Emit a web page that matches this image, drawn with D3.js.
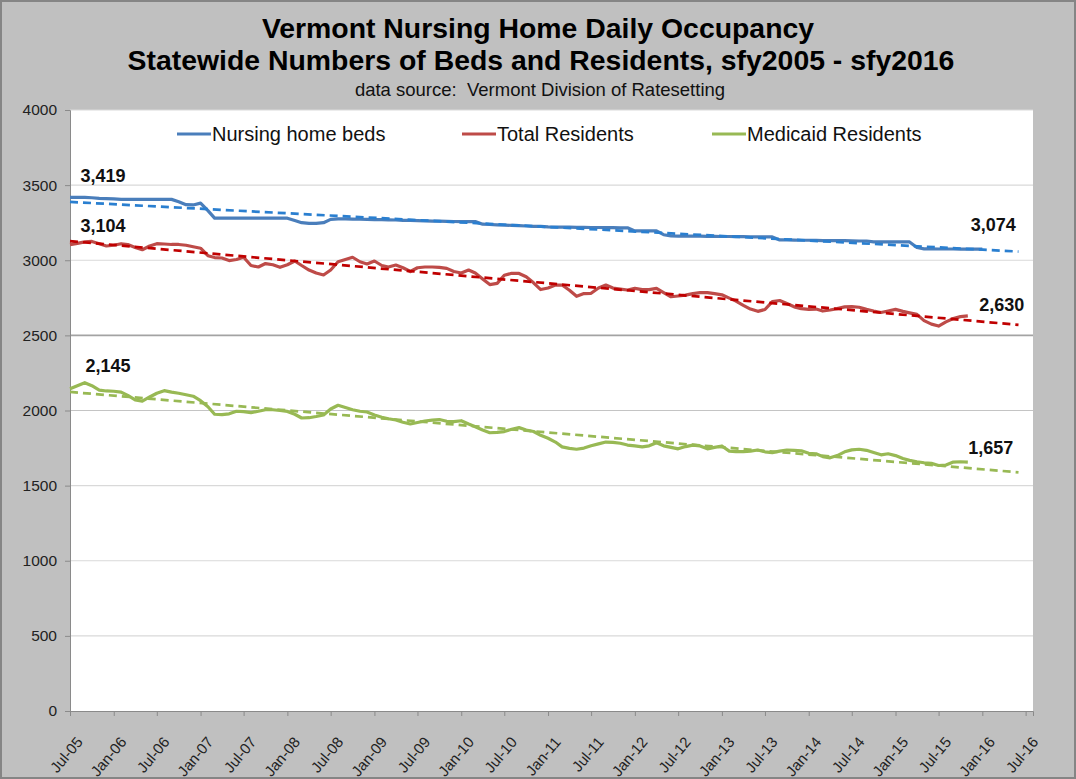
<!DOCTYPE html>
<html>
<head>
<meta charset="utf-8">
<script src="https://cdn.jsdelivr.net/npm/d3@7"></script>
<style>
  body { margin: 0; background: #fff; }
  svg { display: block; font-family: "Liberation Sans", Arial, sans-serif; }
</style>
</head>
<body>
<svg id="chart" width="1076" height="779"></svg>
<script>
// monthly statewide values, first month Jul-05
var firstMonth = "2005-07-01";
var trendLastMonth = "2016-06-01";
var seriesNames = ["Nursing home beds", "Total Residents", "Medicaid Residents"];

var bedsValues = [
  3419, 3419, 3419, 3416, 3412, 3410, 3408, 3405, 3405, 3405, 3405, 3405, 3405, 3405, 3405,
  3390, 3370, 3368, 3380, 3330, 3280,
  3280, 3280, 3280, 3280, 3280, 3280, 3280, 3280, 3280, 3280,
  3265, 3250, 3245, 3245, 3250, 3272, 3275,
  3275, 3274, 3273, 3272, 3271, 3270, 3269, 3268, 3266, 3265, 3264, 3262, 3261, 3260, 3259, 3258,
  3257, 3257, 3257, 3240,
  3238, 3236, 3234, 3232, 3230, 3228, 3226, 3225,
  3222, 3221, 3220, 3220, 3219, 3219, 3218, 3218, 3217, 3217, 3216, 3216,
  3195, 3195, 3195, 3195, 3170,
  3162, 3161, 3161, 3160, 3160, 3159, 3159, 3158, 3158, 3157, 3157, 3156, 3156, 3155, 3155,
  3135,
  3135, 3134, 3133, 3133, 3132, 3131, 3131, 3130, 3130, 3129, 3128, 3128,
  3122, 3122, 3122, 3122, 3122, 3122, 3085,
  3076, 3076, 3075, 3075, 3075, 3074, 3074, 3074, 3074
];

var totalValues = [
  3104, 3112, 3122, 3125, 3110, 3095, 3100, 3110, 3105, 3085, 3070, 3095, 3110, 3108, 3105, 3105,
  3100, 3090, 3080, 3030, 3018, 3015, 2998, 3005, 3020, 2965, 2955, 2978, 2970, 2953, 2970, 2995,
  2965, 2935, 2915, 2902, 2935, 2990, 3005, 3020, 2990, 2975, 2995, 2965, 2955, 2968, 2950, 2925,
  2950, 2955, 2955, 2952, 2946, 2925, 2915, 2935, 2915, 2875, 2838, 2846, 2900, 2913, 2912, 2890,
  2850, 2805, 2815, 2835, 2835, 2800, 2760, 2778, 2780, 2815, 2835, 2815, 2808, 2802, 2813, 2805,
  2805, 2813, 2785, 2757, 2762, 2768, 2778, 2784, 2784, 2778, 2770, 2748, 2728, 2700, 2675, 2660,
  2672, 2725, 2732, 2712, 2690, 2678, 2673, 2675, 2662, 2669, 2678, 2690, 2691, 2687, 2673, 2662,
  2652, 2662, 2673, 2660, 2650, 2640, 2598, 2575, 2562, 2590, 2612, 2625, 2630
];

var medicaidValues = [
  2145, 2165, 2185, 2165, 2135, 2130, 2128, 2122, 2100, 2070, 2062, 2090, 2115, 2132, 2122, 2115,
  2105, 2095, 2065, 2025, 1975, 1972, 1978, 1995, 1992, 1986, 1995, 2005, 2005, 2000, 1994, 1975,
  1950, 1952, 1960, 1970, 2010, 2035, 2020, 2005, 1995, 1990, 1970, 1955, 1945, 1937, 1922, 1910,
  1920, 1930, 1936, 1940, 1928, 1926, 1932, 1910, 1892, 1870, 1852, 1855, 1860, 1875, 1886, 1870,
  1860, 1835, 1815, 1790, 1758, 1748, 1742, 1750, 1765, 1778, 1790, 1788, 1782, 1770, 1764, 1758,
  1765, 1785, 1765, 1755, 1745, 1760, 1770, 1764, 1745, 1755, 1764, 1730, 1726, 1726, 1730, 1737,
  1725, 1720, 1730, 1737, 1734, 1732, 1715, 1712, 1693, 1685, 1700, 1725, 1738, 1742, 1735, 1720,
  1705, 1712, 1700, 1680, 1668, 1659, 1652, 1648, 1634, 1637, 1657, 1659, 1657
];

var yTickValues = [0, 500, 1000, 1500, 2000, 2500, 3000, 3500, 4000];

var lineColors = ["#4a7ebb", "#be4b48", "#98b954"];
var trendColors = ["#2a7fd0", "#c00000", "#98b954"];

var svg = d3.select("#chart");
var W = 1076, H = 779;
var plotL = 70, plotR = 1033, plotT = 110, plotB = 711;

svg.append("rect").attr("x", 1).attr("y", 1).attr("width", W - 2).attr("height", H - 2)
  .attr("fill", "#c0c0c0").attr("stroke", "#858585").attr("stroke-width", 2);
svg.append("rect").attr("x", plotL).attr("y", plotT).attr("width", plotR - plotL).attr("height", plotB - plotT)
  .attr("fill", "#fff");

var start = new Date(firstMonth + "T00:00:00Z");
var x = d3.scaleUtc().domain([start, new Date("2016-08-01T00:00:00Z")]).range([plotL, plotR]);
var y = d3.scaleLinear().domain([0, 4000]).range([plotB, plotT]);

// grid
svg.append("g").selectAll("line").data(yTickValues.filter(function(d){ return d > 0; })).enter()
  .append("line")
  .attr("x1", plotL).attr("x2", plotR)
  .attr("y1", function(d){ return y(d); }).attr("y2", function(d){ return y(d); })
  .attr("stroke", function(d){ return d == 2500 ? "#a3a3a3" : (d == 2000 ? "#c4c4c4" : "#d9d9d9"); })
  .attr("stroke-width", function(d){ return d == 2500 ? 1.6 : 1.2; });

// axes
var yAxis = svg.append("g").attr("transform", "translate(" + plotL + ",0)")
  .call(d3.axisLeft(y).tickValues(yTickValues).tickSize(5).tickPadding(8).tickFormat(d3.format("d")));
yAxis.select(".domain").attr("stroke", "#8a8a8a");
yAxis.selectAll(".tick line").attr("stroke", "#8a8a8a");
yAxis.selectAll("text").attr("font-size", 15.5).attr("fill", "#222").style("font-family", "inherit");

var xAxis = svg.append("g").attr("transform", "translate(0," + plotB + ")")
  .call(d3.axisBottom(x).ticks(d3.utcMonth.every(6)).tickSize(5).tickFormat(d3.utcFormat("%b-%y")));
xAxis.select(".domain").attr("stroke", "#8a8a8a");
xAxis.selectAll(".tick line").attr("stroke", "#8a8a8a");
xAxis.selectAll("text")
  .attr("font-size", 15).attr("fill", "#222").style("font-family", "inherit")
  .attr("text-anchor", "end").attr("y", 0).attr("dy", "0.35em")
  .attr("transform", "translate(9,28) rotate(-50)");

// series
function toPoints(vals) {
  return vals.map(function(v, i){ return { date: d3.utcMonth.offset(start, i), value: v }; });
}
var allSeries = [bedsValues, totalValues, medicaidValues].map(toPoints);
var line = d3.line().x(function(d){ return x(d.date); }).y(function(d){ return y(d.value); });

allSeries.forEach(function(pts, s){
  svg.append("path").datum(pts)
    .attr("d", line).attr("fill", "none")
    .attr("stroke", lineColors[s]).attr("stroke-width", 3.2)
    .attr("stroke-linejoin", "round");
});

// linear trend lines, forecast to Jun-16
var trendEnd = new Date(trendLastMonth + "T00:00:00Z");
var trendN = d3.utcMonth.count(start, trendEnd);
allSeries.forEach(function(pts, s){
  var mx = d3.mean(pts, function(d, i){ return i; });
  var my = d3.mean(pts, function(d){ return d.value; });
  var sxy = d3.sum(pts, function(d, i){ return (i - mx) * (d.value - my); });
  var sxx = d3.sum(pts, function(d, i){ return (i - mx) * (i - mx); });
  var slope = sxy / sxx, icpt = my - slope * mx;
  var tr = [{ date: start, value: icpt }, { date: trendEnd, value: icpt + slope * trendN }];
  svg.append("path").datum(tr)
    .attr("d", line).attr("fill", "none")
    .attr("stroke", trendColors[s]).attr("stroke-width", 2.7)
    .attr("stroke-dasharray", "8,5");
});

// first / last value labels
var labelSpots = [
  { s: 0, at: "first", dx: 33, dy: -15 },
  { s: 1, at: "first", dx: 33, dy: -13 },
  { s: 2, at: "first", dx: 38, dy: -17 },
  { s: 0, at: "last", dx: 11, dy: -18 },
  { s: 1, at: "last", dx: 34, dy: -5 },
  { s: 2, at: "last", dx: 23, dy: -8 }
];
svg.append("g").selectAll("text").data(labelSpots).enter().append("text")
  .attr("x", function(d){ var p = allSeries[d.s]; p = d.at == "first" ? p[0] : p[p.length - 1]; return x(p.date) + d.dx; })
  .attr("y", function(d){ var p = allSeries[d.s]; p = d.at == "first" ? p[0] : p[p.length - 1]; return y(p.value) + d.dy; })
  .attr("text-anchor", "middle").attr("font-size", 18).attr("font-weight", "bold").attr("fill", "#111")
  .text(function(d){ var p = allSeries[d.s]; p = d.at == "first" ? p[0] : p[p.length - 1]; return d3.format(",")(p.value); });

// legend
var legendX = [177, 462, 712];
var lg = svg.append("g").selectAll("g").data(seriesNames).enter().append("g")
  .attr("transform", function(d, i){ return "translate(" + legendX[i] + ",134)"; });
lg.append("line").attr("x1", 0).attr("x2", 34).attr("stroke", function(d, i){ return lineColors[i]; })
  .attr("stroke-width", 3.2);
lg.append("text").attr("x", 35).attr("y", 7).attr("font-size", 20).attr("fill", "#111").text(function(d){ return d; });

// titles
svg.append("text").attr("x", 538).attr("y", 38).attr("text-anchor", "middle")
  .attr("font-size", 28.4).attr("font-weight", "bold").attr("fill", "#000")
  .text("Vermont Nursing Home Daily Occupancy");
svg.append("text").attr("x", 541).attr("y", 70).attr("text-anchor", "middle")
  .attr("font-size", 28.4).attr("font-weight", "bold").attr("fill", "#000")
  .text("Statewide Numbers of Beds and Residents, sfy2005 - sfy2016");
svg.append("text").attr("x", 540).attr("y", 96).attr("text-anchor", "middle")
  .attr("font-size", 18.5).attr("fill", "#111").style("white-space", "pre")
  .text("data source:  Vermont Division of Ratesetting");
</script>
</body>
</html>
